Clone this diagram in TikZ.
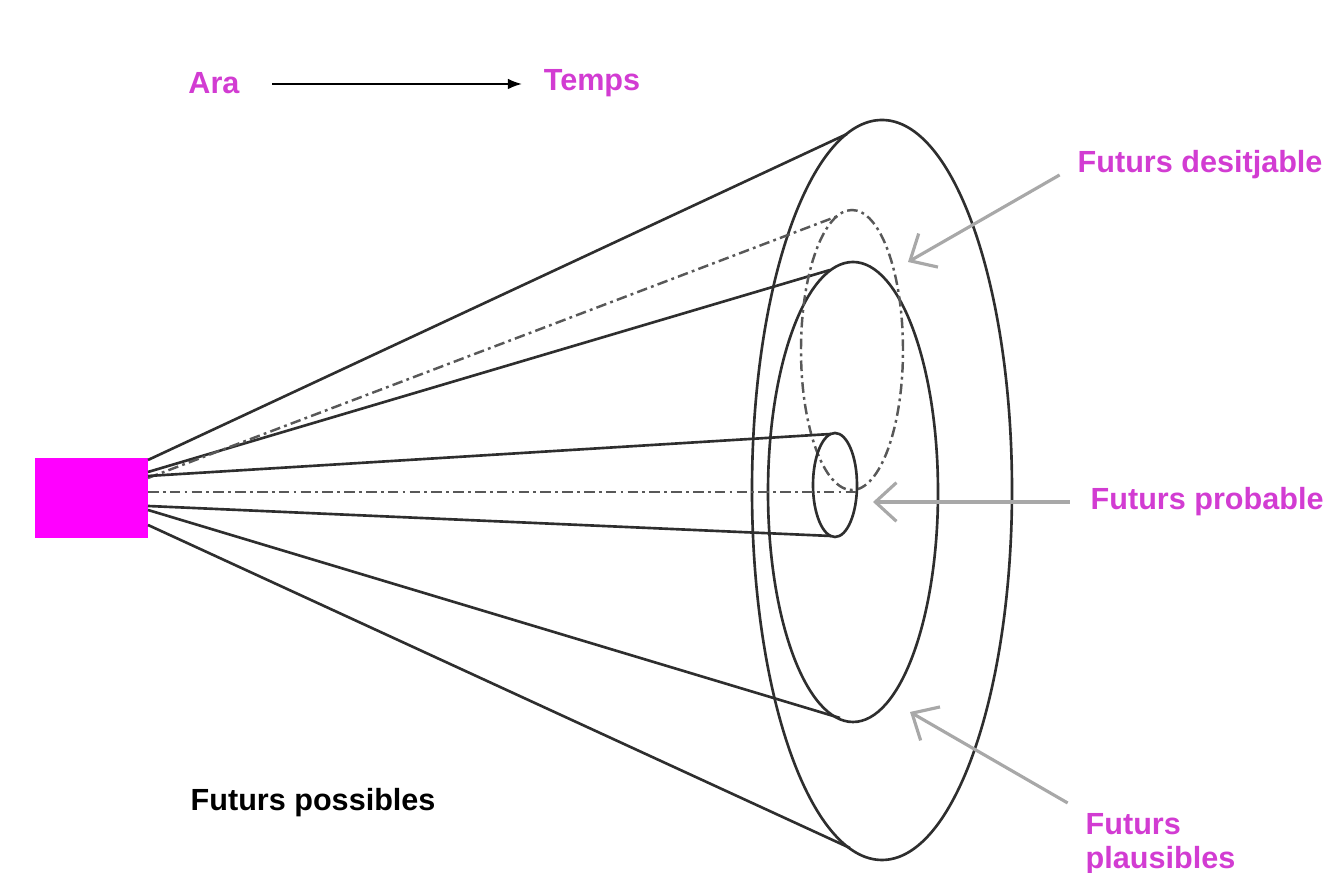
\documentclass[tikz,border=0pt]{standalone}
\usepackage{fontspec}
\setmainfont{Liberation Sans}
\usepackage{tikz}
\usetikzlibrary{arrows.meta}

\begin{document}
\begin{tikzpicture}[x=0.01cm, y=0.01cm]

% Colori
\definecolor{colAra}{HTML}{FF00FF}
\definecolor{colText}{HTML}{D23CD2}
\definecolor{colLine}{HTML}{2E2E2E}
\definecolor{colArrow}{HTML}{A8A8A8}

\tikzset{
  cone/.style={colLine, line width=0.75pt},
  conedash/.style={colLine!80, line width=0.7pt, dash pattern=on 3pt off 1.2pt on 0.8pt off 1.2pt},
  pointer/.style={colArrow, line width=0.9pt, shorten <=2mm, -{Straight Barb[length=6pt,width=11pt]}},
  futur/.style={font=\fontsize{8.7}{9.6}\selectfont\bfseries, text=colText, inner sep=0pt, align=left}
}

\useasboundingbox (0,0) rectangle (1323,873);

% Ara -> Temps
\node[futur] (ara) at (214,790) {Ara};
\node[futur] (temps) at (592,790) {Temps};
\draw[black, line width=0.5pt, -{Latex[length=4pt,width=3pt]}] (272,789) -- (522,789);

% Present
\fill[colAra] (35,335) rectangle (148,415);

% Futurs possibles (con esterno)
\draw[cone] (882,383) ellipse [x radius=130, y radius=370];
\draw[cone] (148,413) -- (847,739);
\draw[cone] (148,348) -- (850,25);

% Futurs plausibles (con mitja)
\draw[cone] (853,381) ellipse [x radius=85, y radius=230];
\draw[cone] (148,401) -- (830,603);
\draw[cone] (148,363) -- (840,155);

% Futurs desitjables (tracat)
\draw[conedash] (852,523) ellipse [x radius=51, y radius=140];
\draw[conedash] (148,395) -- (838,657);

% Futurs probables (tub)
\draw[cone] (835,388) ellipse [x radius=22, y radius=52];
\draw[cone] (148,397) -- (831,439);
\draw[cone] (148,367) -- (831,337);

% Eix central
\draw[conedash] (148,381) -- (860,381);

% Etiquetes
\node[futur, anchor=west] (desit) at (1077,708) {Futurs desitjable};
\node[futur, anchor=west] (prob) at (1090,371) {Futurs probable};
\node[futur, anchor=north west] (plaus) at (1085,60) {Futurs\\plausibles};
\node[futur, text=black, anchor=west] (poss) at (190,70) {Futurs possibles};

\coordinate (desitTip) at (908,611);
\coordinate (probTip) at (873,371);
\coordinate (plausTip) at (910,161);

\draw[pointer] (desit.west) -- (desitTip);
\draw[pointer] (prob.west) -- (probTip);
\draw[pointer] (plaus.north west) -- (plausTip);

\end{tikzpicture}
\end{document}
